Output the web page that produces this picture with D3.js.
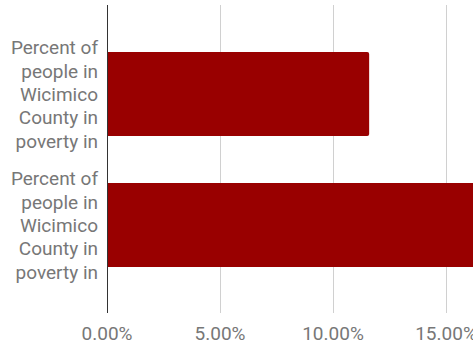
<!DOCTYPE html>
<html>
<head>
<meta charset="utf-8">
<script src="https://cdn.jsdelivr.net/npm/d3@7"></script>
<style>
  body { margin: 0; background: #fff; }
  svg { display: block; }
  text { font-family: Roboto, "Noto Sans", sans-serif; fill: #777; }
</style>
</head>
<body>
<svg id="chart" width="473" height="347"></svg>
<script>

// data
var categories = ["row1", "row2"];
var labelLines = ["Percent of", "people in", "Wicimico", "County in", "poverty in"];
var values = [11.6, 17.0];   // percent
var tickValues = [0, 5, 10, 15];

var svg = d3.select("#chart");

// x: 0% sits at 107, 5% at 220
var x = d3.scaleLinear().domain([0, 20]).range([107, 559]);
var y = d3.scaleBand().domain(categories).range([5, 314])
    .paddingInner(0.359).paddingOuter(0.359);

// gridlines
svg.append("g")
    .selectAll("line")
    .data(tickValues.filter(function(d) { return d !== 0; }))
    .enter().append("line")
    .attr("x1", function(d) { return Math.round(x(d)) + 0.5; })
    .attr("x2", function(d) { return Math.round(x(d)) + 0.5; })
    .attr("y1", 5)
    .attr("y2", 313)
    .attr("stroke", "#d0d0d0")
    .attr("stroke-width", 1);

// bars, rounded at the right end
svg.append("g")
    .selectAll("path")
    .data(categories)
    .enter().append("path")
    .attr("fill", "#990000")
    .attr("d", function(d, i) {
        var x0 = x(0), x1 = x(values[i]), y0 = y(d), h = y.bandwidth(), r = 2;
        return "M" + x0 + "," + y0 +
            "H" + (x1 - r) + "Q" + x1 + "," + y0 + " " + x1 + "," + (y0 + r) +
            "V" + (y0 + h - r) + "Q" + x1 + "," + (y0 + h) + " " + (x1 - r) + "," + (y0 + h) +
            "H" + x0 + "Z";
    });

// zero baseline
svg.append("line")
    .attr("x1", Math.round(x(0)) + 0.5)
    .attr("x2", Math.round(x(0)) + 0.5)
    .attr("y1", 5)
    .attr("y2", 313)
    .attr("stroke", "#333")
    .attr("stroke-width", 1);

// x tick labels
svg.append("g")
    .selectAll("text")
    .data(tickValues)
    .enter().append("text")
    .attr("x", function(d) { return x(d); })
    .attr("y", 340)
    .attr("text-anchor", "middle")
    .style("font-size", "19px")
    .text(function(d) { return d3.format(".2f")(d) + "%"; });

// category labels
var lineH = 23.3;
var lab = svg.append("g")
    .selectAll("text")
    .data(categories)
    .enter().append("text")
    .attr("text-anchor", "end")
    .style("font-size", "19px");

lab.selectAll("tspan")
    .data(function(d) {
        return labelLines.map(function(t, j) { return { cat: d, t: t, j: j }; });
    })
    .enter().append("tspan")
    .attr("x", 98)
    .attr("y", function(o) {
        var c = y(o.cat) + y.bandwidth() / 2;
        return c + (o.j - (labelLines.length - 1) / 2) * lineH + 7;
    })
    .text(function(o) { return o.t; });

</script>
</body>
</html>
